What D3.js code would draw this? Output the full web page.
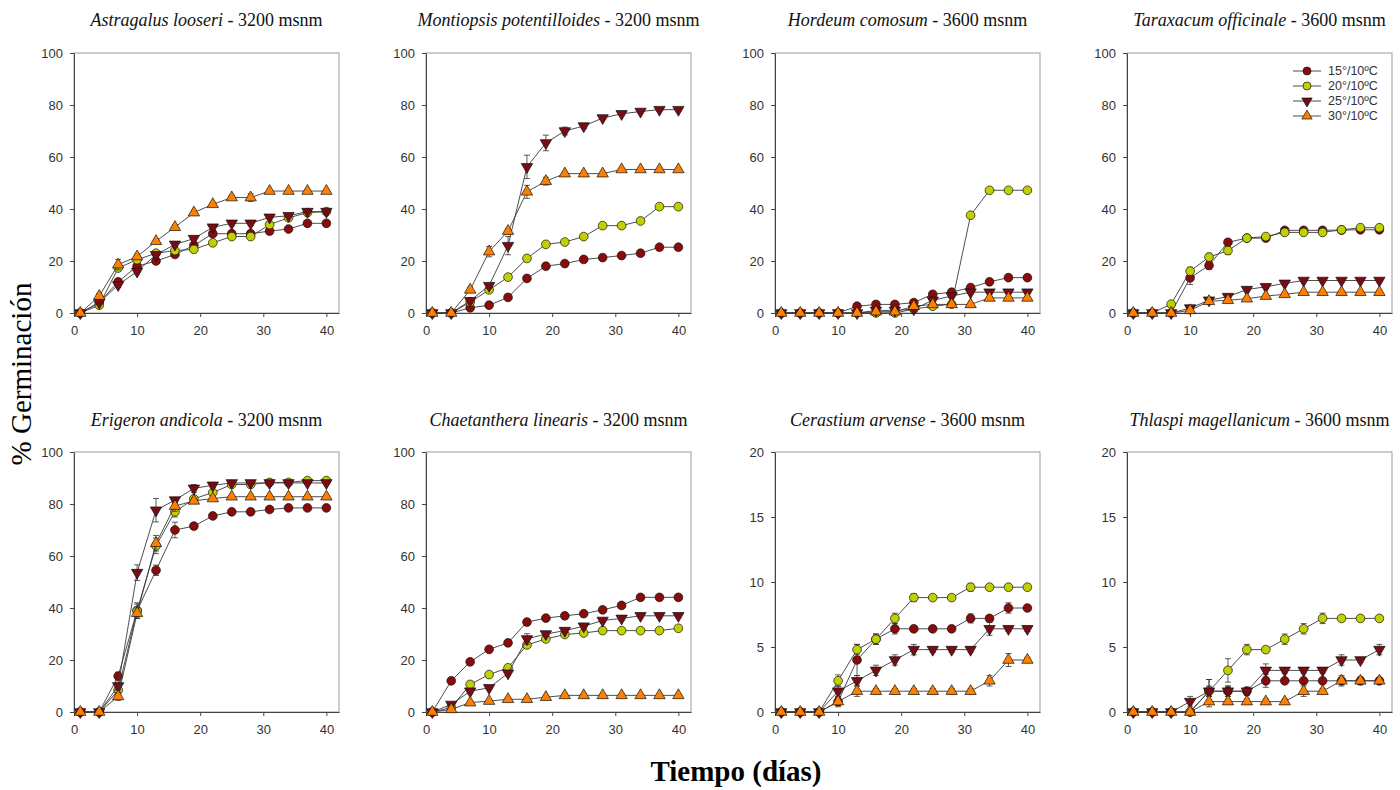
<!DOCTYPE html>
<html>
<head>
<meta charset="utf-8">
<script src="https://cdn.jsdelivr.net/npm/d3@7"></script>
<style>
  body { margin: 0; background: #fff; }
</style>
</head>
<body>
<svg id="chart" width="1400" height="790"></svg>
<script>
// days of the germination trial
var days = [1, 4, 7, 10, 13, 16, 19, 22, 25, 28, 31, 34, 37, 40];
var treatments = ["15°/10ºC", "20°/10ºC", "25°/10ºC", "30°/10ºC"];

// % germination, one row per treatment (15, 20, 25, 30)
var astragalus = [
  [0, 4, 12, 18, 20, 22.5, 26, 30.5, 30.5, 30.5, 31.5, 32.3, 34.5, 34.5],
  [0, 3, 17.3, 20.5, 23, 24, 24.5, 27, 29.4, 29.4, 34, 36.6, 38.6, 39],
  [0, 4, 10.8, 16, 22.4, 26.4, 28.6, 33, 34.5, 34.5, 36.8, 37.4, 39, 39],
  [0, 6.5, 18.6, 21.7, 27.6, 33, 38.6, 41.8, 44.4, 44.4, 46.9, 46.9, 46.9, 46.9]
];
var montiopsis = [
  [0, 0, 2, 3, 6, 13.3, 18, 19, 20.6, 21.3, 22.1, 23, 25.3, 25.3],
  [0, 0, 4.2, 8.9, 13.8, 21, 26.4, 27.3, 29.4, 33.6, 33.6, 35.4, 40.9, 40.9],
  [0, 0, 4.7, 10.5, 25.9, 56.2, 65.4, 70, 71.9, 75, 76.6, 77.5, 78.2, 78.2],
  [0, 0, 8.9, 23.6, 31.5, 46.6, 50.7, 53.6, 53.6, 53.6, 55.2, 55.2, 55.2, 55.2]
];
var hordeum = [
  [0, 0, 0, 0, 2.6, 3.3, 3.3, 4, 7.2, 8, 9.8, 12, 13.6, 13.6],
  [0, 0, 0, 0, 0, 0, 0, 1.5, 2.6, 3.4, 37.6, 47.2, 47.2, 47.2],
  [0, 0, 0, 0, 0, 1, 1, 1.5, 4.9, 6.5, 8, 8, 8, 8],
  [0, 0, 0, 0, 0, 0.5, 0.5, 2.6, 3.3, 3.3, 3.3, 5.8, 5.8, 5.8]
];
var taraxacum = [
  [0, 0, 0, 13.5, 18.3, 27.2, 28.8, 28.8, 31.8, 31.8, 31.8, 31.9, 32, 32],
  [0, 0, 3.4, 16.1, 21.5, 24, 28.8, 29.4, 31, 31, 31, 32, 32.8, 32.8],
  [0, 0, 0, 1.9, 4.9, 6.3, 9, 10.1, 11.4, 12.5, 12.5, 12.5, 12.5, 12.5],
  [0, 0, 0, 1, 4.5, 4.9, 5.5, 6.5, 7.2, 8, 8, 8, 8, 8]
];
var erigeron = [
  [0, 0, 13.8, 39, 54.5, 70, 71.5, 75.4, 77, 77, 77.9, 78.5, 78.5, 78.5],
  [0, 0, 8.4, 39, 63.9, 77, 82, 84.4, 87.5, 87.5, 88.3, 88.3, 89, 89],
  [0, 0, 10, 53.6, 77.6, 81.5, 86, 87.2, 88.1, 88.1, 88.1, 88.1, 88.1, 88.1],
  [0, 0, 6, 38, 64.9, 79.2, 81.2, 82.1, 82.8, 82.8, 82.8, 82.8, 82.8, 82.8]
];
var chaetanthera = [
  [0, 12, 19.3, 24.1, 26.6, 34.6, 36.1, 37, 37.8, 39.3, 41, 44.1, 44.1, 44.1],
  [0, 1.7, 10.6, 14.4, 17, 25.8, 28.1, 29.8, 30.4, 31.3, 31.3, 31.3, 31.3, 32.2],
  [0, 2.9, 8, 9.3, 14.9, 28.1, 30, 31.3, 33, 35.2, 36, 37, 37, 37],
  [0, 1, 3.6, 4.2, 4.9, 4.9, 5.7, 6.4, 6.4, 6.4, 6.4, 6.4, 6.4, 6.4]
];
var cerastium = [
  [0, 0, 0, 0.8, 4, 5.6, 6.4, 6.4, 6.4, 6.4, 7.2, 7.2, 8, 8],
  [0, 0, 0, 2.4, 4.8, 5.6, 7.2, 8.8, 8.8, 8.8, 9.6, 9.6, 9.6, 9.6],
  [0, 0, 0, 1.6, 2.4, 3.2, 4, 4.8, 4.8, 4.8, 4.8, 6.4, 6.4, 6.4],
  [0, 0, 0, 0.8, 1.6, 1.6, 1.6, 1.6, 1.6, 1.6, 1.6, 2.4, 4, 4]
];
var thlaspi = [
  [0, 0, 0, 0, 1.6, 1.6, 1.6, 2.4, 2.4, 2.4, 2.4, 2.4, 2.4, 2.4],
  [0, 0, 0, 0, 1.6, 3.2, 4.8, 4.8, 5.6, 6.4, 7.2, 7.2, 7.2, 7.2],
  [0, 0, 0, 0.8, 1.6, 1.6, 1.6, 3.2, 3.2, 3.2, 3.2, 4, 4, 4.8],
  [0, 0, 0, 0, 0.8, 0.8, 0.8, 0.8, 0.8, 1.6, 1.6, 2.4, 2.4, 2.4]
];

// standard errors, same layout (only the visible ones)
var astragalusErr = [
  [0, 0.8, 1, 1, 0.8, 0.8, 0.8, 0.8, 0.8, 0.8, 0.5, 0.5, 0.5, 0.5],
  [0, 0.8, 1, 1, 0.8, 0.8, 0.8, 0.8, 0.8, 0.8, 0.5, 0.5, 0.5, 0.5],
  [0, 0.8, 1, 1, 0.8, 0.8, 0.8, 0.8, 0.8, 0.8, 0.5, 0.5, 0.5, 0.5],
  [0, 1, 2, 1, 0.8, 0.8, 0.8, 0.5, 0.8, 1.5, 0, 0, 0, 0]
];
var montiopsisErr = [
  [0, 0, 0.5, 0.5, 0.5, 0.5, 0.5, 0.5, 0.5, 0.5, 0.5, 0.5, 0.5, 0.5],
  [0, 0, 0.5, 1, 0.5, 0.5, 0.5, 0.5, 0.5, 0.5, 0.5, 0.5, 0.5, 0.5],
  [0, 0, 1, 1, 3.5, 4.5, 3, 1.5, 1, 0.5, 0.5, 0.5, 0.5, 0.5],
  [0, 0, 1, 2, 1, 2.5, 1.5, 0.5, 0.5, 0.5, 0.5, 0.5, 0.5, 0.5]
];
var hordeumErr = [
  [0, 0, 0, 0, 0.5, 0.5, 0.5, 0.5, 0.5, 0.5, 0.8, 1, 0.5, 0.5],
  [0, 0, 0, 0, 0, 0, 0, 0.5, 0.5, 0.5, 0.8, 0.5, 0.5, 0.5],
  [0, 0, 0, 0, 0, 0.5, 0.5, 0.5, 0.5, 0.5, 0.5, 0.5, 0.5, 0.5],
  [0, 0, 0, 0, 0, 0.5, 0.5, 0.5, 0.5, 0.5, 0.5, 0.5, 0.5, 0.5]
];
var taraxacumErr = [
  [0, 0, 0, 2.5, 1.5, 1, 0.5, 0.5, 0.5, 0.5, 0.5, 0.5, 0.5, 0.5],
  [0, 0, 0.5, 1.5, 1.5, 1.5, 0.5, 0.5, 0.5, 0.5, 0.5, 0.5, 0.5, 0.5],
  [0, 0, 0, 0.5, 0.8, 0.5, 0.5, 0.5, 0.5, 0.5, 0.5, 0.5, 0.5, 0.5],
  [0, 0, 0, 0.5, 0.5, 0.5, 0.5, 0.5, 0.5, 0.5, 0.5, 0.5, 0.5, 0.5]
];
var erigeronErr = [
  [0, 0, 1.5, 2.5, 2, 3, 1, 1, 0.8, 0.8, 0.5, 0.5, 0.5, 0.5],
  [0, 0, 1.5, 3, 3, 2, 1, 1, 0.8, 0.8, 0.5, 0.5, 0.5, 0.5],
  [0, 0, 1.5, 3, 4.5, 1, 1.5, 0.8, 0.5, 0.5, 0.5, 0.5, 0.5, 0.5],
  [0, 0, 1.5, 2, 3, 2, 1, 0.5, 0.5, 0.5, 0.5, 0.5, 0.5, 0.5]
];
var chaetantheraErr = [
  [0, 1, 1, 0.8, 0.8, 1, 0.8, 0.8, 0.8, 0.8, 0.8, 0.8, 0.8, 0.8],
  [0, 0.5, 1, 0.8, 0.8, 1, 0.8, 0.8, 0.8, 0.8, 0.8, 0.8, 0.8, 0.8],
  [0, 0.5, 1, 0.8, 0.8, 2, 0.8, 0.8, 0.8, 0.8, 0.8, 0.8, 0.8, 0.8],
  [0, 0.5, 0.5, 0.5, 0.5, 0.5, 0.5, 0.5, 0.5, 0.5, 0.5, 0.5, 0.5, 0.5]
];
var cerastiumErr = [
  [0, 0, 0, 0.3, 1.2, 0.4, 0.4, 0.2, 0.2, 0.2, 0.35, 0.2, 0.4, 0.2],
  [0, 0, 0, 0.45, 0.4, 0.4, 0.4, 0.3, 0.2, 0.2, 0.3, 0.2, 0.2, 0.2],
  [0, 0, 0, 0.4, 0.4, 0.4, 0.4, 0.4, 0.2, 0.2, 0.2, 0.5, 0.2, 0.2],
  [0, 0, 0, 0.4, 0.4, 0.2, 0.2, 0.2, 0.2, 0.2, 0.2, 0.4, 0.5, 0.2]
];
var thlaspiErr = [
  [0, 0, 0, 0, 0.4, 0.4, 0.3, 0.5, 0.2, 0.2, 0.2, 0.2, 0.2, 0.2],
  [0, 0, 0, 0, 0.9, 0.9, 0.4, 0.2, 0.4, 0.4, 0.4, 0.2, 0.2, 0.2],
  [0, 0, 0, 0.4, 0.9, 0.4, 0.3, 0.5, 0.2, 0.2, 0.2, 0.4, 0.2, 0.4],
  [0, 0, 0, 0, 0.4, 0.2, 0.2, 0.2, 0.2, 0.4, 0.2, 0.4, 0.3, 0.2]
];

var panels = [
  {species: "Astragalus looseri", alt: "3200 msnm", data: astragalus, err: astragalusErr, ymax: 100},
  {species: "Montiopsis potentilloides", alt: "3200 msnm", data: montiopsis, err: montiopsisErr, ymax: 100},
  {species: "Hordeum comosum", alt: "3600 msnm", data: hordeum, err: hordeumErr, ymax: 100},
  {species: "Taraxacum officinale", alt: "3600 msnm", data: taraxacum, err: taraxacumErr, ymax: 100, legend: true},
  {species: "Erigeron andicola", alt: "3200 msnm", data: erigeron, err: erigeronErr, ymax: 100},
  {species: "Chaetanthera linearis", alt: "3200 msnm", data: chaetanthera, err: chaetantheraErr, ymax: 100},
  {species: "Cerastium arvense", alt: "3600 msnm", data: cerastium, err: cerastiumErr, ymax: 20},
  {species: "Thlaspi magellanicum", alt: "3600 msnm", data: thlaspi, err: thlaspiErr, ymax: 20}
];

var colors = ["#8b0a0a", "#c0d000", "#780b14", "#ff8000"];
var symbols = [d3.symbolCircle, d3.symbolCircle, d3.symbolTriangle, d3.symbolTriangle];
var rotate = [0, 0, 180, 0];

var svg = d3.select("#chart");
var lefts = [74, 426, 775, 1127],
    tops = [53, 452],
    w = 265,
    h = 260;

panels.forEach(function(p, i) {
  var col = i % 4, row = Math.floor(i / 4);
  var g = svg.append("g")
      .attr("transform", "translate(" + lefts[col] + "," + tops[row] + ")");

  var x = d3.scaleLinear().domain([0, 42]).range([0, w]);
  var y = d3.scaleLinear().domain([0, p.ymax]).range([h, 0]);

  // light frame on top / right
  g.append("rect")
    .attr("width", w).attr("height", h)
    .attr("fill", "none").attr("stroke", "#9a9a9a").attr("stroke-width", 1);

  var xAxis = g.append("g")
      .attr("transform", "translate(0," + h + ")")
      .call(d3.axisBottom(x).tickValues([0, 10, 20, 30, 40]).tickSize(4).tickPadding(9).tickSizeOuter(0));
  var yAxis = g.append("g")
      .call(d3.axisLeft(y).ticks(5).tickSize(4).tickPadding(7).tickSizeOuter(0));

  [xAxis, yAxis].forEach(function(a) {
    a.select(".domain").attr("stroke", "#444");
    a.selectAll(".tick line").attr("stroke", "#444");
    a.selectAll("text")
      .attr("fill", "#333")
      .style("font-family", "Liberation Sans, Arial, sans-serif")
      .style("font-size", "13px");
  });

  // title
  var t = svg.append("text")
      .attr("x", lefts[col] + w / 2)
      .attr("y", row === 0 ? 26 : 426)
      .attr("text-anchor", "middle")
      .style("font-family", "Liberation Serif, Times New Roman, serif")
      .style("font-size", "18px")
      .attr("fill", "#111");
  t.append("tspan").style("font-style", "italic").text(p.species);
  t.append("tspan").text(" - " + p.alt);

  var line = d3.line()
      .x(function(d, j) { return x(days[j]); })
      .y(function(d) { return y(d); });

  p.data.forEach(function(series, s) {
    g.append("path")
      .datum(series)
      .attr("d", line)
      .attr("fill", "none")
      .attr("stroke", "#3a3a3a")
      .attr("stroke-width", 0.9);

    // error bars
    var eb = g.append("g").attr("stroke", "#333").attr("stroke-width", 0.8);
    series.forEach(function(v, j) {
      var e = p.err[s][j];
      if (!e) return;
      var cx = x(days[j]);
      eb.append("line").attr("x1", cx).attr("x2", cx)
        .attr("y1", y(v - e)).attr("y2", y(v + e));
      [v - e, v + e].forEach(function(c) {
        if (c < 0) return;
        eb.append("line").attr("x1", cx - 3).attr("x2", cx + 3)
          .attr("y1", y(c)).attr("y2", y(c));
      });
    });

    g.selectAll(".m" + s)
      .data(series)
      .enter()
      .append("path")
        .attr("d", d3.symbol().type(symbols[s]).size(s < 2 ? 60 : 56))
        .attr("transform", function(d, j) {
          return "translate(" + x(days[j]) + "," + y(d) + ") rotate(" + rotate[s] + ")";
        })
        .attr("fill", colors[s])
        .attr("stroke", "#111")
        .attr("stroke-width", 0.7);
  });

  if (p.legend) {
    var lg = g.append("g").attr("transform", "translate(" + (w - 99) + ",18)");
    treatments.forEach(function(name, s) {
      var ly = s * 15;
      lg.append("line")
        .attr("x1", 0).attr("x2", 28).attr("y1", ly).attr("y2", ly)
        .attr("stroke", "#3a3a3a").attr("stroke-width", 0.9);
      lg.append("path")
        .attr("d", d3.symbol().type(symbols[s]).size(s < 2 ? 50 : 46))
        .attr("transform", "translate(14," + ly + ") rotate(" + rotate[s] + ")")
        .attr("fill", colors[s]).attr("stroke", "#111").attr("stroke-width", 0.7);
      lg.append("text")
        .attr("x", 35).attr("y", ly).attr("dy", "0.35em")
        .attr("fill", "#333")
        .style("font-family", "Liberation Sans, Arial, sans-serif")
        .style("font-size", "12.5px")
        .text(name);
    });
  }
});

// big axis labels
svg.append("text")
  .attr("transform", "translate(31,374) rotate(-90)")
  .attr("text-anchor", "middle")
  .style("font-family", "Liberation Serif, Times New Roman, serif")
  .style("font-size", "29px")
  .attr("fill", "#000")
  .text("% Germinación");

svg.append("text")
  .attr("x", 736)
  .attr("y", 781)
  .attr("text-anchor", "middle")
  .style("font-family", "Liberation Serif, Times New Roman, serif")
  .style("font-size", "29px")
  .style("font-weight", "bold")
  .attr("fill", "#000")
  .text("Tiempo (días)");
</script>
</body>
</html>
